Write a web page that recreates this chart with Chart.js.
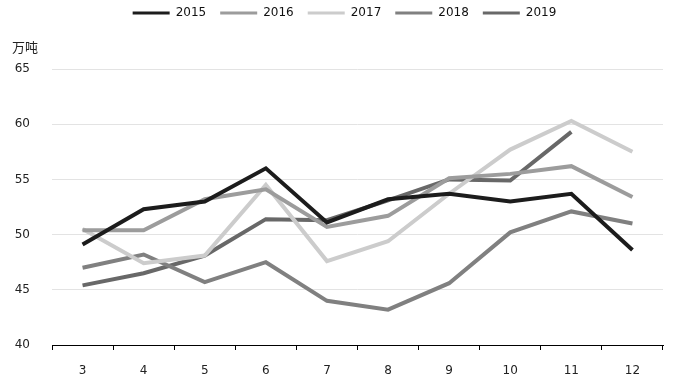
<!DOCTYPE html>
<html>
<head>
<meta charset="utf-8">
<script src="https://cdn.jsdelivr.net/npm/chart.js@4/dist/chart.umd.min.js"></script>
<style>
html,body{margin:0;padding:0;background:#fff;}
#wrap{width:675px;height:388px;}
</style>
</head>
<body>
<div id="wrap"><canvas id="c" width="675" height="388"></canvas></div>
<script>
const months = ['3','4','5','6','7','8','9','10','11','12'];
const yearLabels = ['2015','2016','2017','2018','2019'];
const s2015 = [49.1, 52.3, 53.0, 56.0, 51.1, 53.2, 53.7, 53.0, 53.7, 48.6];
const s2016 = [50.4, 50.4, 53.2, 54.1, 50.7, 51.7, 55.1, 55.5, 56.2, 53.4];
const s2017 = [50.5, 47.4, 48.1, 54.5, 47.6, 49.4, 53.7, 57.7, 60.3, 57.5];
const s2018 = [47.0, 48.2, 45.7, 47.5, 44.0, 43.2, 45.6, 50.2, 52.1, 51.0];
const s2019 = [45.4, 46.5, 48.1, 51.4, 51.3, 53.1, 55.0, 54.9, 59.3, null];
const yTicks = [40, 45, 50, 55, 60, 65];
const unitLabel = '万吨';

const colors = ['#1c1c1c', '#9c9c9c', '#cccccc', '#808080', '#686868'];
const series = [s2015, s2016, s2017, s2018, s2019];
const FONT = '"DejaVu Sans", "Noto Sans CJK SC", sans-serif';

const legendSpace = {
  id: 'legendSpace',
  beforeInit(chart) {
    const lg = chart.legend;
    const origFit = lg.fit;
    lg.fit = function() { origFit.call(this); this.height = 71; };
    const origDraw = lg.draw;
    lg.draw = function() {
      const ctx = chart.ctx;
      ctx.save();
      ctx.translate(6, -5);
      origDraw.apply(this, arguments);
      ctx.restore();
    };
  }
};
const unitPlugin = {
  id: 'unitText',
  afterDraw(chart) {
    const ctx = chart.ctx;
    ctx.save();
    ctx.font = '13px "Noto Sans CJK SC", sans-serif';
    ctx.fillStyle = '#222';
    ctx.textAlign = 'left';
    ctx.textBaseline = 'middle';
    ctx.fillText(unitLabel, 12, 47);
    ctx.restore();
  }
};

new Chart(document.getElementById('c'), {
  type: 'line',
  data: {
    labels: months,
    datasets: series.map((d, i) => ({
      label: yearLabels[i],
      data: d,
      borderColor: colors[i],
      backgroundColor: colors[i],
      borderWidth: 4,
      pointRadius: 0,
      tension: 0,
      fill: false
    }))
  },
  options: {
    responsive: false,
    animation: false,
    layout: { padding: { left: 14, right: 12, top: -2, bottom: 0 } },
    plugins: {
      legend: {
        position: 'top',
        labels: {
          boxWidth: 37,
          boxHeight: 3,
          padding: 14,
          color: '#111',
          font: { family: FONT, size: 12 },
          generateLabels(chart) {
            const items = Chart.defaults.plugins.legend.labels.generateLabels(chart);
            items.forEach(it => { it.lineWidth = 0; it.strokeStyle = 'rgba(0,0,0,0)'; });
            return items;
          }
        }
      },
      tooltip: { enabled: false }
    },
    scales: {
      x: {
        offset: true,
        afterFit(scale) { scale.height = 43; },
        grid: {
          offset: true,
          drawOnChartArea: false,
          drawTicks: true,
          tickLength: 5,
          color: '#000'
        },
        border: { display: true, color: '#000', width: 1 },
        ticks: { color: '#222', padding: 14, font: { family: FONT, size: 12 } }
      },
      y: {
        min: 40,
        max: 65,
        afterFit(scale) { scale.width = 38; },
        afterBuildTicks(scale) { scale.ticks = yTicks.map(v => ({ value: v })); },
        grid: {
          drawTicks: false,
          color: (ctx) => ctx.tick && ctx.tick.value === 40 ? 'rgba(0,0,0,0)' : '#e3e3e3',
          lineWidth: 1
        },
        border: { display: false },
        ticks: { color: '#222', padding: 22, font: { family: FONT, size: 12 } }
      }
    }
  },
  plugins: [legendSpace, unitPlugin]
});
</script>
</body>
</html>
